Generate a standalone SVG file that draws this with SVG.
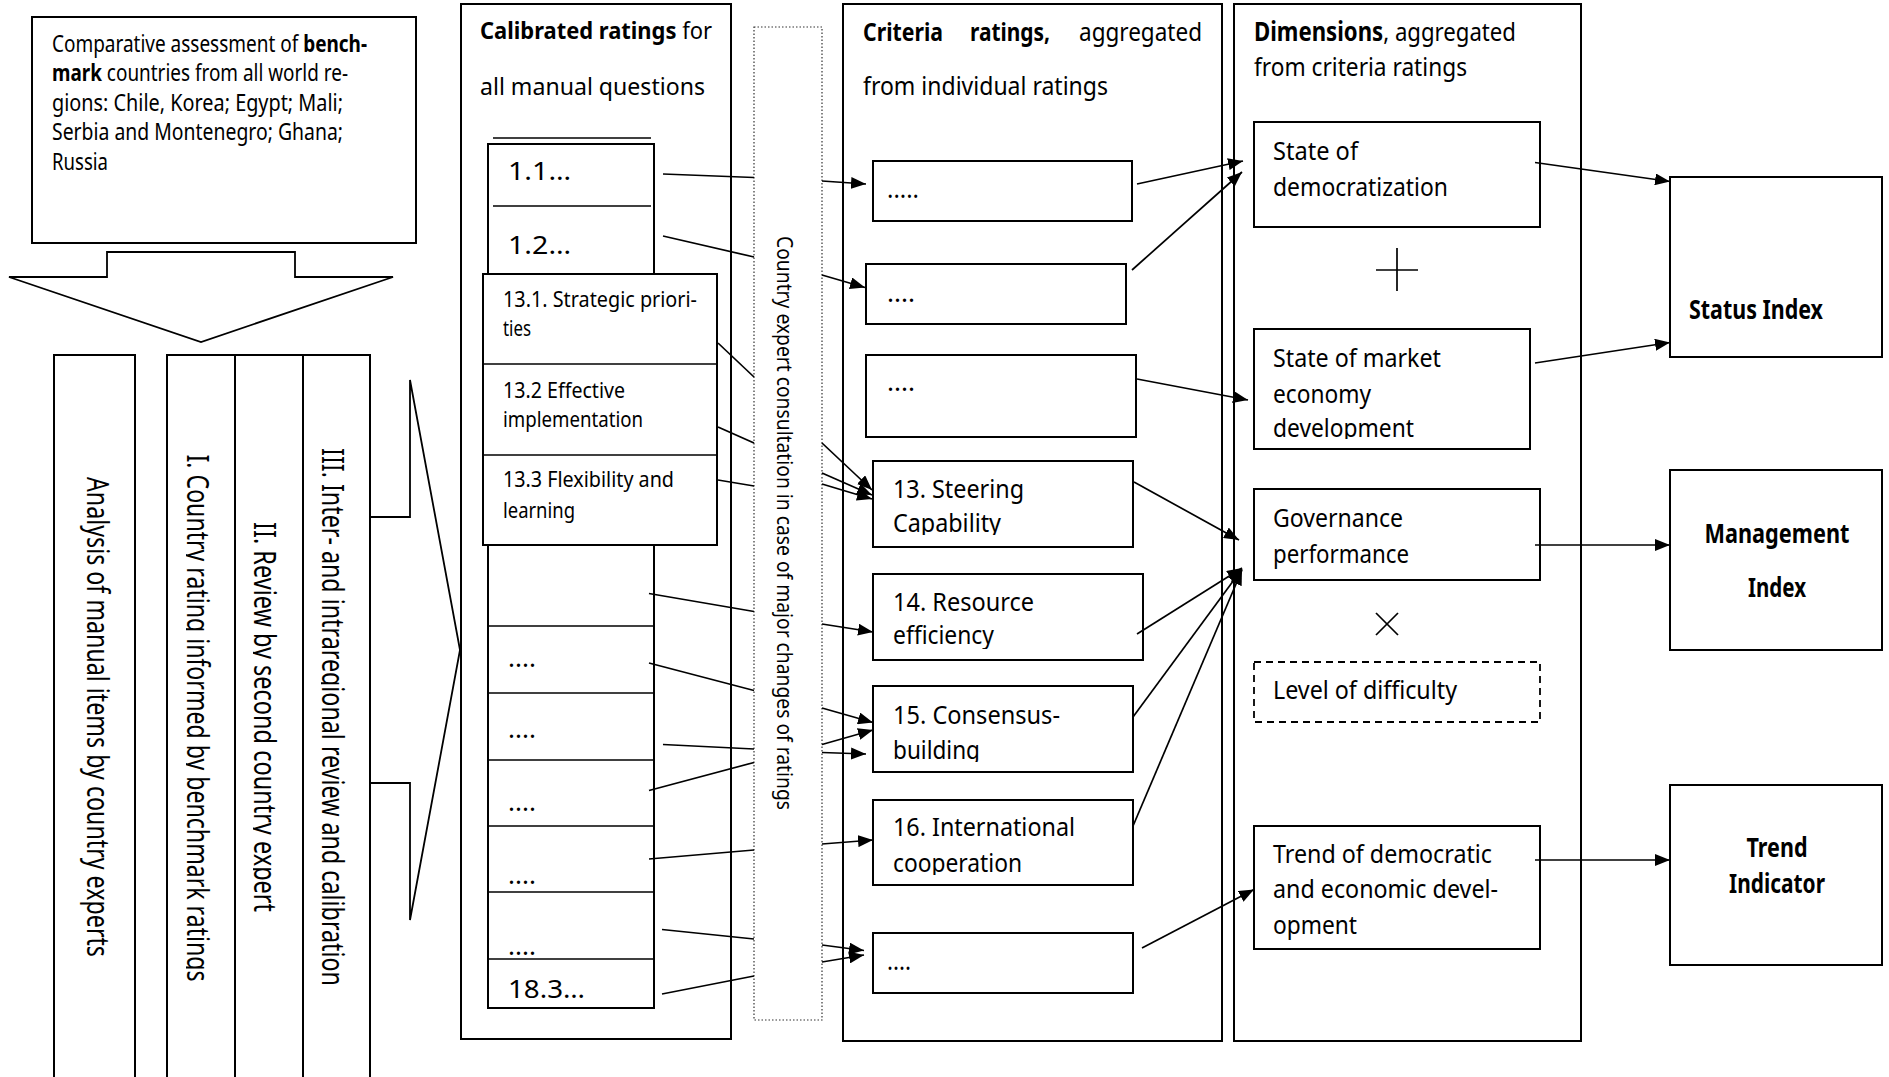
<svg xmlns="http://www.w3.org/2000/svg" width="1889" height="1077" viewBox="0 0 1889 1077">
<style>
.box{fill:#fff;stroke:#000;stroke-width:2}
.thin{fill:none;stroke:#000;stroke-width:1.8}
.ln{stroke:#000;stroke-width:1.7;fill:none}
.arr{stroke:#000;stroke-width:1.7;fill:none;marker-end:url(#ah)}
text{font-family:"Noto Sans","Liberation Sans",sans-serif;fill:#000}
.b{font-weight:bold}
.f21{font-size:21px}.f23{font-size:23px}.f25{font-size:25px}.f26{font-size:26px}
</style>
<defs>
<marker id="ah" viewBox="0 0 15 12" refX="15" refY="6" markerWidth="15" markerHeight="12" markerUnits="userSpaceOnUse" orient="auto"><path d="M0,0 L15,6 L0,12 z" fill="#000"/></marker>
<clipPath id="c2"><rect x="186" y="340" width="48" height="740"/></clipPath>
<clipPath id="c3"><rect x="253" y="340" width="49" height="740"/></clipPath>
<clipPath id="c4"><rect x="321" y="340" width="48" height="740"/></clipPath>
<clipPath id="cCap"><rect x="870" y="505" width="260" height="30"/></clipPath>
<clipPath id="cEff"><rect x="870" y="618" width="260" height="31"/></clipPath>
<clipPath id="cBld"><rect x="870" y="732" width="260" height="30"/></clipPath>
<clipPath id="cCoop"><rect x="870" y="845" width="260" height="30"/></clipPath>
<clipPath id="cDev"><rect x="1260" y="410" width="260" height="29"/></clipPath>
</defs>
<rect width="1889" height="1077" fill="#fff"/>

<g id="benchmark">
<rect class="box" x="32" y="17" width="384" height="226"/>
<text class="f23" x="52" y="52" textLength="315" lengthAdjust="spacingAndGlyphs">Comparative assessment of <tspan class="b">bench-</tspan></text>
<text class="f23" x="52" y="81" textLength="296" lengthAdjust="spacingAndGlyphs"><tspan class="b">mark</tspan> countries from all world re-</text>
<text class="f23" x="52" y="111" textLength="291" lengthAdjust="spacingAndGlyphs">gions: Chile, Korea; Egypt; Mali;</text>
<text class="f23" x="52" y="140" textLength="291" lengthAdjust="spacingAndGlyphs">Serbia and Montenegro; Ghana;</text>
<text class="f23" x="52" y="170" textLength="56" lengthAdjust="spacingAndGlyphs">Russia</text>
</g>

<g id="down-arrow">
<polygon class="thin" fill="#fff" points="107,252 295,252 295,277 393,277 201,342 9,277 107,277"/>
</g>

<g id="analysis">
<rect class="box" x="54" y="355" width="81" height="730"/>
<text x="87" y="717" transform="rotate(90 87 717)" text-anchor="middle" font-size="30" textLength="480" lengthAdjust="spacingAndGlyphs">Analysis of manual items by country experts</text>
</g>
<g id="stage-1">
<rect class="box" x="167" y="355" width="68" height="730"/>
<g clip-path="url(#c2)"><text x="187" y="718" transform="rotate(90 187 718)" text-anchor="middle" font-size="30" textLength="527" lengthAdjust="spacingAndGlyphs">I. Country rating informed by benchmark ratings</text></g>
</g>
<g id="stage-2">
<rect class="box" x="235" y="355" width="68" height="730"/>
<g clip-path="url(#c3)"><text x="254" y="717" transform="rotate(90 254 717)" text-anchor="middle" font-size="30" textLength="390" lengthAdjust="spacingAndGlyphs">II. Review by second country expert</text></g>
</g>
<g id="stage-3">
<rect class="box" x="303" y="355" width="67" height="730"/>
<g clip-path="url(#c4)"><text x="322" y="717" transform="rotate(90 322 717)" text-anchor="middle" font-size="30" textLength="538" lengthAdjust="spacingAndGlyphs">III. Inter- and intraregional review and calibration</text></g>
</g>

<g id="right-arrow">
<polyline class="thin" points="370,517 410,517 410,380 460,650 410,920 410,783 370,783"/>
</g>

<g id="calibrated">
<rect class="box" x="461" y="4" width="270" height="1035"/>
<text class="f23" x="480" y="39" textLength="232" lengthAdjust="spacingAndGlyphs"><tspan class="b">Calibrated ratings</tspan> for</text>
<text class="f23" x="480" y="95" textLength="225" lengthAdjust="spacingAndGlyphs">all manual questions</text>
<line class="ln" x1="493" y1="138" x2="651" y2="138"/>
<rect class="box" x="488" y="144" width="166" height="864"/>
<line class="ln" x1="493" y1="206" x2="651" y2="206"/>
<text class="f26" x="508" y="180" textLength="63" lengthAdjust="spacingAndGlyphs">1.1…</text>
<text class="f26" x="508" y="254" textLength="63" lengthAdjust="spacingAndGlyphs">1.2…</text>
<line class="ln" x1="488" y1="626" x2="654" y2="626"/>
<line class="ln" x1="488" y1="693" x2="654" y2="693"/>
<line class="ln" x1="488" y1="760" x2="654" y2="760"/>
<line class="ln" x1="488" y1="826" x2="654" y2="826"/>
<line class="ln" x1="488" y1="892" x2="654" y2="892"/>
<line class="ln" x1="488" y1="959" x2="654" y2="959"/>
<text class="f26" x="508" y="667">....</text>
<text class="f26" x="508" y="738">....</text>
<text class="f26" x="508" y="811">....</text>
<text class="f26" x="508" y="884">....</text>
<text class="f26" x="508" y="955">....</text>
<text class="f26" x="508" y="998" textLength="77" lengthAdjust="spacingAndGlyphs">18.3…</text>
</g>

<g id="steering-items">
<rect class="box" x="483" y="274" width="234" height="271"/>
<line class="ln" x1="483" y1="364" x2="717" y2="364"/>
<line class="ln" x1="483" y1="455" x2="717" y2="455"/>
<text class="f21" x="503" y="307" textLength="194" lengthAdjust="spacingAndGlyphs">13.1. Strategic priori-</text>
<text class="f21" x="503" y="336" textLength="28" lengthAdjust="spacingAndGlyphs">ties</text>
<text class="f21" x="503" y="398" textLength="122" lengthAdjust="spacingAndGlyphs">13.2 Effective</text>
<text class="f21" x="503" y="427" textLength="140" lengthAdjust="spacingAndGlyphs">implementation</text>
<text class="f21" x="503" y="487" textLength="171" lengthAdjust="spacingAndGlyphs">13.3 Flexibility and</text>
<text class="f21" x="503" y="518" textLength="72" lengthAdjust="spacingAndGlyphs">learning</text>
</g>

<g id="consultation">
<rect x="754" y="27" width="68" height="993" fill="#fff" stroke="#333" stroke-width="1.2" stroke-dasharray="1.5,2"/>
<text x="777" y="523" transform="rotate(90 777 523)" text-anchor="middle" font-size="22" textLength="574" lengthAdjust="spacingAndGlyphs">Country expert consultation in case of major changes of ratings</text>
</g>

<g id="criteria">
<rect class="box" x="843" y="4" width="379" height="1037"/>
<text class="f25 b" x="863" y="41" textLength="80" lengthAdjust="spacingAndGlyphs">Criteria</text>
<text class="f25 b" x="970" y="41" textLength="80" lengthAdjust="spacingAndGlyphs">ratings,</text>
<text class="f25" x="1079" y="41" textLength="123" lengthAdjust="spacingAndGlyphs">aggregated</text>
<text class="f25" x="863" y="95" textLength="245" lengthAdjust="spacingAndGlyphs">from individual ratings</text>
</g>
<g id="crit-a"><rect class="box" x="873" y="161" width="259" height="60"/><text class="f25" x="887" y="198" textLength="32" lengthAdjust="spacingAndGlyphs">.....</text></g>
<g id="crit-b"><rect class="box" x="866" y="264" width="260" height="60"/><text class="f25" x="887" y="302" textLength="28" lengthAdjust="spacingAndGlyphs">....</text></g>
<g id="crit-c"><rect class="box" x="866" y="355" width="270" height="82"/><text class="f25" x="887" y="391" textLength="28" lengthAdjust="spacingAndGlyphs">....</text></g>
<g id="crit-13"><rect class="box" x="873" y="461" width="260" height="86"/>
<text class="f25" x="893" y="498" textLength="131" lengthAdjust="spacingAndGlyphs">13. Steering</text>
<text class="f25" clip-path="url(#cCap)" x="893" y="532" textLength="108" lengthAdjust="spacingAndGlyphs">Capability</text></g>
<g id="crit-14"><rect class="box" x="873" y="574" width="270" height="86"/>
<text class="f25" x="893" y="611" textLength="141" lengthAdjust="spacingAndGlyphs">14. Resource</text>
<text class="f25" clip-path="url(#cEff)" x="893" y="644" textLength="101" lengthAdjust="spacingAndGlyphs">efficiency</text></g>
<g id="crit-15"><rect class="box" x="873" y="686" width="260" height="86"/>
<text class="f25" x="893" y="724" textLength="167" lengthAdjust="spacingAndGlyphs">15. Consensus-</text>
<text class="f25" clip-path="url(#cBld)" x="893" y="759" textLength="87" lengthAdjust="spacingAndGlyphs">building</text></g>
<g id="crit-16"><rect class="box" x="873" y="800" width="260" height="85"/>
<text class="f25" x="893" y="836" textLength="182" lengthAdjust="spacingAndGlyphs">16. International</text>
<text class="f25" clip-path="url(#cCoop)" x="893" y="872" textLength="129" lengthAdjust="spacingAndGlyphs">cooperation</text></g>
<g id="crit-last"><rect class="box" x="873" y="933" width="260" height="60"/><text class="f25" x="887" y="970" textLength="24" lengthAdjust="spacingAndGlyphs">....</text></g>

<g id="dimensions">
<rect class="box" x="1234" y="4" width="347" height="1037"/>
<text class="f26" x="1254" y="41" textLength="262" lengthAdjust="spacingAndGlyphs"><tspan class="b">Dimensions</tspan>, aggregated</text>
<text class="f26" x="1254" y="76" textLength="213" lengthAdjust="spacingAndGlyphs">from criteria ratings</text>
<line class="ln" x1="1376" y1="270" x2="1418" y2="270"/>
<line class="ln" x1="1397" y1="248" x2="1397" y2="291"/>
<line class="ln" x1="1376" y1="613" x2="1398" y2="635"/>
<line class="ln" x1="1376" y1="635" x2="1398" y2="613"/>
</g>
<g id="dim-democracy"><rect class="box" x="1254" y="122" width="286" height="105"/>
<text class="f26" x="1273" y="160" textLength="85" lengthAdjust="spacingAndGlyphs">State of</text>
<text class="f26" x="1273" y="196" textLength="175" lengthAdjust="spacingAndGlyphs">democratization</text></g>
<g id="dim-market"><rect class="box" x="1254" y="329" width="276" height="120"/>
<text class="f26" x="1273" y="367" textLength="168" lengthAdjust="spacingAndGlyphs">State of market</text>
<text class="f26" x="1273" y="403" textLength="98" lengthAdjust="spacingAndGlyphs">economy</text>
<text class="f26" clip-path="url(#cDev)" x="1273" y="437" textLength="141" lengthAdjust="spacingAndGlyphs">development</text></g>
<g id="dim-governance"><rect class="box" x="1254" y="489" width="286" height="91"/>
<text class="f26" x="1273" y="527" textLength="130" lengthAdjust="spacingAndGlyphs">Governance</text>
<text class="f26" x="1273" y="563" textLength="136" lengthAdjust="spacingAndGlyphs">performance</text></g>
<g id="dim-difficulty"><rect x="1254" y="662" width="286" height="60" fill="#fff" stroke="#000" stroke-width="1.8" stroke-dasharray="7,5"/>
<text class="f26" x="1273" y="699" textLength="184" lengthAdjust="spacingAndGlyphs">Level of difficulty</text></g>
<g id="dim-trend"><rect class="box" x="1254" y="826" width="286" height="123"/>
<text class="f26" x="1273" y="863" textLength="219" lengthAdjust="spacingAndGlyphs">Trend of democratic</text>
<text class="f26" x="1273" y="898" textLength="225" lengthAdjust="spacingAndGlyphs">and economic devel-</text>
<text class="f26" x="1273" y="934" textLength="84" lengthAdjust="spacingAndGlyphs">opment</text></g>

<g id="status-index"><rect class="box" x="1670" y="177" width="212" height="180"/>
<text class="f26 b" x="1689" y="319" textLength="134" lengthAdjust="spacingAndGlyphs">Status Index</text></g>
<g id="management-index"><rect class="box" x="1670" y="470" width="212" height="180"/>
<text class="f26 b" x="1777" y="543" text-anchor="middle" textLength="145" lengthAdjust="spacingAndGlyphs">Management</text>
<text class="f26 b" x="1777" y="597" text-anchor="middle" textLength="58" lengthAdjust="spacingAndGlyphs">Index</text></g>
<g id="trend-indicator"><rect class="box" x="1670" y="785" width="212" height="180"/>
<text class="f26 b" x="1777" y="857" text-anchor="middle" textLength="61" lengthAdjust="spacingAndGlyphs">Trend</text>
<text class="f26 b" x="1777" y="893" text-anchor="middle" textLength="96" lengthAdjust="spacingAndGlyphs">Indicator</text></g>

<g id="connectors">
<line class="ln" x1="663" y1="174" x2="754" y2="177.5"/>
<line class="ln" x1="663" y1="236" x2="754" y2="257"/>
<line class="ln" x1="718" y1="343" x2="754" y2="377"/>
<line class="ln" x1="718" y1="427" x2="754" y2="443"/>
<line class="ln" x1="718" y1="480" x2="754" y2="486"/>
<line class="ln" x1="649" y1="593.5" x2="754" y2="611.5"/>
<line class="ln" x1="649" y1="663" x2="754" y2="690.5"/>
<line class="ln" x1="663" y1="744.5" x2="754" y2="749"/>
<line class="ln" x1="649" y1="790.5" x2="754" y2="762.5"/>
<line class="ln" x1="649" y1="859" x2="754" y2="850"/>
<line class="ln" x1="662" y1="929.5" x2="754" y2="939"/>
<line class="ln" x1="662" y1="994" x2="754" y2="976"/>

<line class="arr" x1="822" y1="181" x2="866" y2="184"/>
<line class="arr" x1="822" y1="275" x2="865" y2="287.5"/>
<line class="arr" x1="822" y1="443" x2="872" y2="490"/>
<line class="arr" x1="822" y1="473" x2="872" y2="495"/>
<line class="arr" x1="822" y1="484" x2="872" y2="499"/>
<line class="arr" x1="822" y1="624" x2="873" y2="632"/>
<line class="arr" x1="822" y1="708" x2="873" y2="722.5"/>
<line class="arr" x1="822" y1="744.5" x2="873" y2="730"/>
<line class="arr" x1="822" y1="752.5" x2="866" y2="754"/>
<line class="arr" x1="822" y1="844" x2="873" y2="840"/>
<line class="arr" x1="822" y1="945" x2="864" y2="950.5"/>
<line class="arr" x1="822" y1="962" x2="864" y2="955"/>

<line class="arr" x1="1137" y1="184" x2="1243" y2="161"/>
<line class="arr" x1="1132" y1="270" x2="1242" y2="172"/>
<line class="arr" x1="1137" y1="379" x2="1248" y2="400"/>
<line class="arr" x1="1134" y1="482" x2="1239" y2="540"/>
<line class="arr" x1="1137" y1="634" x2="1242" y2="568"/>
<line class="arr" x1="1133" y1="717" x2="1242" y2="569"/>
<line class="arr" x1="1133" y1="826" x2="1242" y2="570"/>
<line class="arr" x1="1142" y1="948" x2="1254" y2="889.5"/>

<line class="arr" x1="1535" y1="162.5" x2="1670" y2="181.5"/>
<line class="arr" x1="1535" y1="363" x2="1670" y2="342.5"/>
<line class="arr" x1="1535" y1="545" x2="1670" y2="545"/>
<line class="arr" x1="1535" y1="860" x2="1670" y2="860"/>
</g>
</svg>
